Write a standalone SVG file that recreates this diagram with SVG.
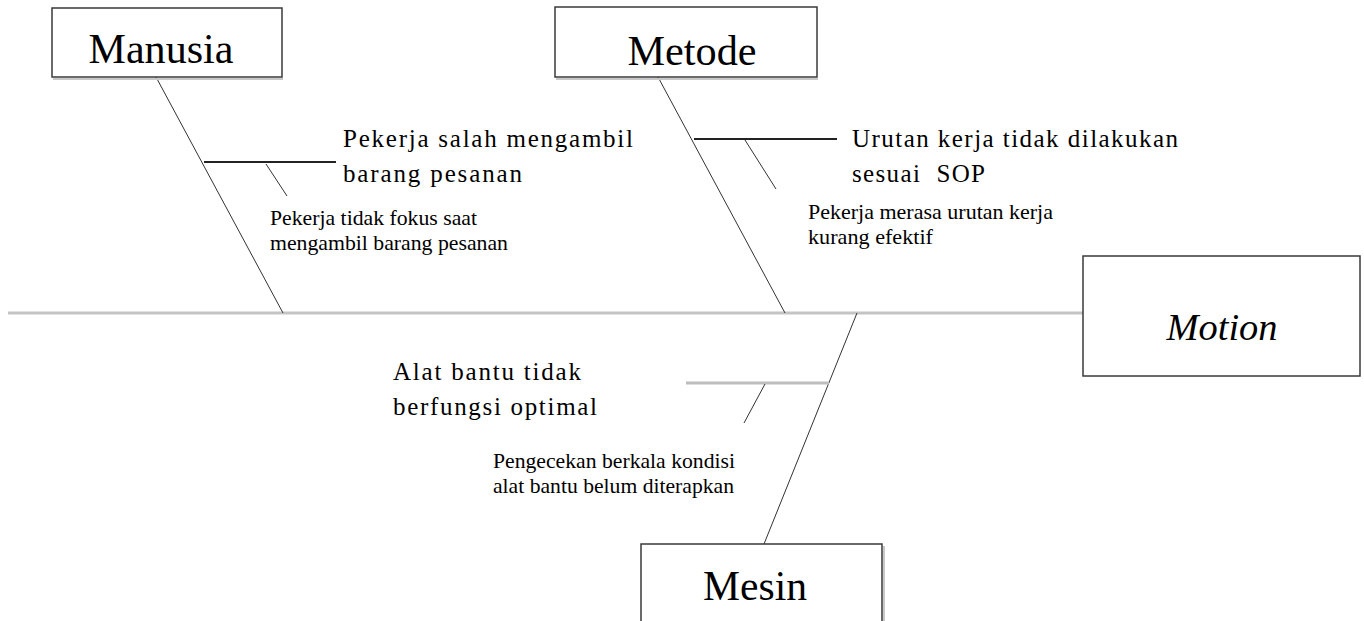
<svg xmlns="http://www.w3.org/2000/svg" width="1364" height="621" viewBox="0 0 1364 621">
  <style>
    text { font-family: "Liberation Serif", "Times New Roman", serif; fill: #000; }
    .box { fill: #ffffff; stroke: #3a3a3a; stroke-width: 1.5; }
    .shadow { stroke: #c8c8c8; stroke-width: 2; fill: none; }
    .title { font-size: 42px; text-anchor: middle; }
    .head { font-size: 38px; font-style: italic; text-anchor: middle; }
    .cause { font-size: 25px; }
    .sub { font-size: 22px; }
    .bone { stroke: #333; stroke-width: 1; fill: none; }
    .rib { stroke: #222; stroke-width: 2; fill: none; }
    .spine { stroke: #c4c4c4; stroke-width: 3; fill: none; }
    .rib-grey { stroke: #bdbdbd; stroke-width: 3; fill: none; }
  </style>

  <rect width="1364" height="621" fill="#ffffff"/>

  <!-- connectors: spine, category bones, cause ribs and sub-cause ticks -->
  <g id="connectors">
    <line class="spine" x1="8" y1="313" x2="1083" y2="313"/>

    <line class="bone" x1="156" y1="77" x2="283" y2="313"/>
    <line class="rib" x1="204" y1="162" x2="336" y2="162"/>
    <line class="bone" x1="266" y1="164" x2="287" y2="196"/>

    <line class="bone" x1="658" y1="77" x2="785" y2="313"/>
    <line class="rib" x1="694" y1="139" x2="837" y2="139"/>
    <line class="bone" x1="745" y1="140" x2="776" y2="189"/>

    <line class="bone" x1="857" y1="313" x2="764" y2="544"/>
    <line class="rib-grey" x1="686" y1="383" x2="829" y2="383"/>
    <line class="bone" x1="765" y1="384" x2="744" y2="423"/>
  </g>

  <g id="manusia">
    <line class="shadow" x1="53" y1="79" x2="283" y2="79"/>
    <rect class="box" x="52" y="8" width="230" height="69"/>
    <text class="title" x="161" y="63" textLength="145" lengthAdjust="spacingAndGlyphs">Manusia</text>
  </g>

  <g id="metode">
    <line class="shadow" x1="556" y1="79" x2="818" y2="79"/>
    <rect class="box" x="555" y="7" width="262" height="70"/>
    <text class="title" x="692" y="65" textLength="129" lengthAdjust="spacingAndGlyphs">Metode</text>
  </g>

  <g id="motion">
    <rect class="box" x="1083" y="256" width="277" height="120"/>
    <text class="head" x="1222" y="340" textLength="111" lengthAdjust="spacingAndGlyphs">Motion</text>
  </g>

  <g id="mesin">
    <rect class="box" x="641" y="544" width="241" height="100"/>
    <line class="shadow" x1="884" y1="546" x2="884" y2="621"/>
    <text class="title" x="755" y="600" textLength="104" lengthAdjust="spacingAndGlyphs">Mesin</text>
  </g>

  <g id="cause-manusia">
    <text class="cause" x="343" y="147" textLength="290" lengthAdjust="spacing">Pekerja salah mengambil</text>
    <text class="cause" x="343" y="182" textLength="179" lengthAdjust="spacing">barang pesanan</text>
  </g>
  <g id="sub-manusia">
    <text class="sub" x="270" y="225" textLength="207" lengthAdjust="spacingAndGlyphs">Pekerja tidak fokus saat</text>
    <text class="sub" x="270" y="250" textLength="238" lengthAdjust="spacingAndGlyphs">mengambil barang pesanan</text>
  </g>

  <g id="cause-metode">
    <text class="cause" x="852" y="147" textLength="326" lengthAdjust="spacing">Urutan kerja tidak dilakukan</text>
    <text class="cause" x="852" y="182" textLength="133" lengthAdjust="spacing" xml:space="preserve">sesuai  SOP</text>
  </g>
  <g id="sub-metode">
    <text class="sub" x="808" y="219" textLength="245" lengthAdjust="spacingAndGlyphs">Pekerja merasa urutan kerja</text>
    <text class="sub" x="808" y="244" textLength="125" lengthAdjust="spacingAndGlyphs">kurang efektif</text>
  </g>

  <g id="cause-mesin">
    <text class="cause" x="393" y="380" textLength="188" lengthAdjust="spacing">Alat bantu tidak</text>
    <text class="cause" x="393" y="415" textLength="204" lengthAdjust="spacing">berfungsi optimal</text>
  </g>
  <g id="sub-mesin">
    <text class="sub" x="493" y="468" textLength="242" lengthAdjust="spacingAndGlyphs">Pengecekan berkala kondisi</text>
    <text class="sub" x="493" y="493" textLength="241" lengthAdjust="spacingAndGlyphs">alat bantu belum diterapkan</text>
  </g>
</svg>
